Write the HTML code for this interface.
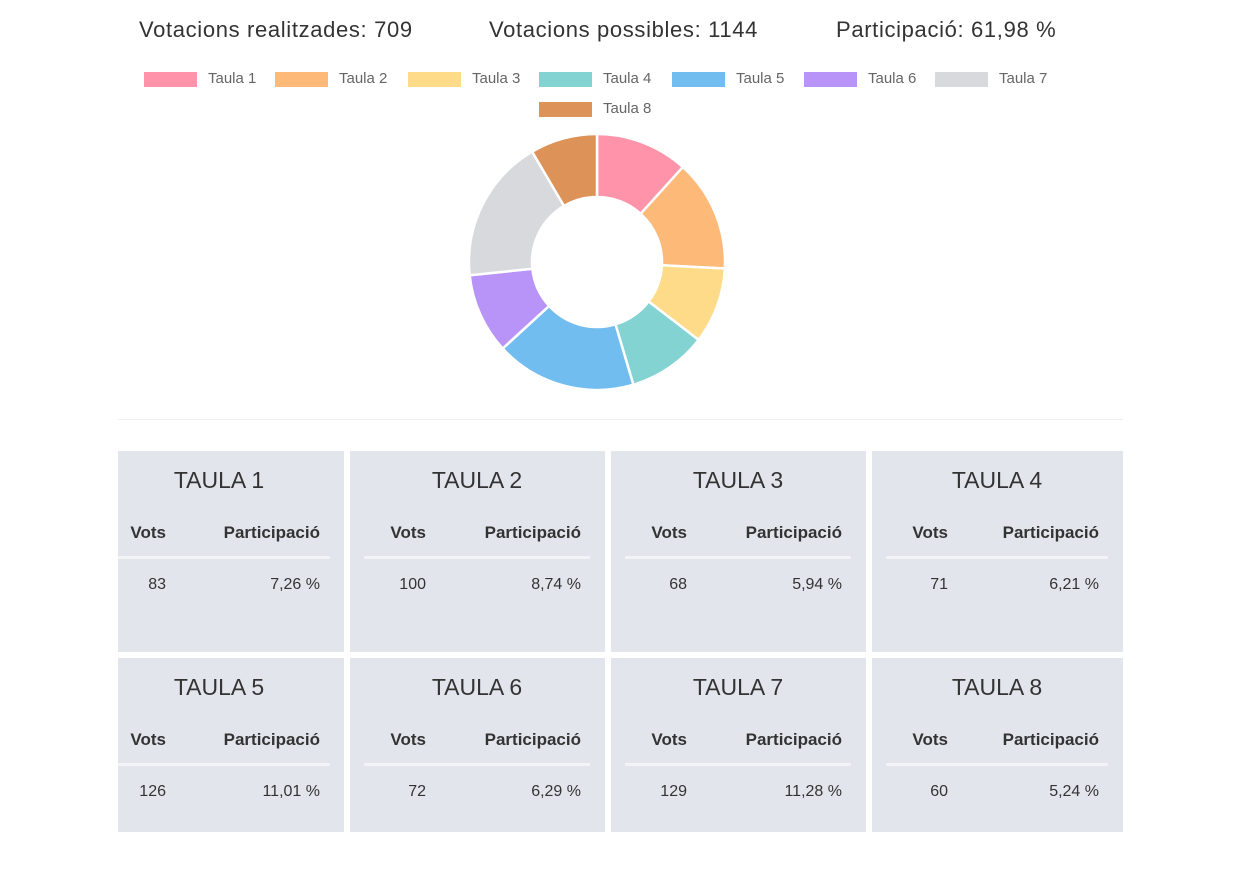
<!DOCTYPE html>
<html><head><meta charset="utf-8"><style>
body{margin:0;width:1241px;height:871px;background:#fff;position:relative;overflow:hidden;font-family:"Liberation Sans",sans-serif}
.a{position:absolute;white-space:nowrap}
.h{font-size:22px;color:#333;top:17px;letter-spacing:0.65px}
.lb{position:absolute;width:53px;height:15px}
.lt{position:absolute;font-size:15px;color:#666}
.card{position:absolute;background:#e2e6ec}
.t{font-size:23px;color:#333;font-weight:300;top:16px}
.b{font-size:17px;font-weight:bold;color:#333;top:72px}
.v{font-size:16px;color:#333;top:125px}
.ln{position:absolute;height:3px;background:#f1f3f6;top:105px}
</style></head><body>
<div class="a h" style="left:139px">Votacions realitzades: 709</div>
<div class="a h" style="left:489px">Votacions possibles: 1144</div>
<div class="a h" style="left:836px">Participació: 61,98 %</div>
<div style="position:absolute;left:118px;top:419px;width:1005px;height:1px;background:#eceef0"></div>
<svg id="d" width="1241" height="420" style="position:absolute;left:0;top:0"></svg>
<div id="root"></div>
<script>
(function(){
var vals=[83,100,68,71,126,72,129,60],pct=["7,26","8,74","5,94","6,21","11,01","6,29","11,28","5,24"];
var cols=["#fe93a9","#fdb977","#fedb88","#82d3d2","#72bdef","#b893f8","#d8d9dd","#dd9258"];
var s="",cx=597,cy=262,R=128,r=65,tot=709,a=-Math.PI/2;
function p(rad,an){return (cx+rad*Math.cos(an)).toFixed(2)+","+(cy+rad*Math.sin(an)).toFixed(2)}
vals.forEach(function(v,i){var b=a+v/tot*2*Math.PI,l=(b-a)>Math.PI?1:0;
s+='<path d="M'+p(R,a)+' A'+R+','+R+' 0 '+l+' 1 '+p(R,b)+' L'+p(r,b)+' A'+r+','+r+' 0 '+l+' 0 '+p(r,a)+' Z" fill="'+cols[i]+'" stroke="#fff" stroke-width="2.5"/>';a=b;});
document.getElementById('d').innerHTML=s;
var h="",lx=[144,275,408,539,672,804,935,539];
for(var i=0;i<8;i++){var y=i<7?72:102;
h+='<div class="lb" style="left:'+lx[i]+'px;top:'+y+'px;background:'+cols[i]+'"></div><div class="lt" style="left:'+(lx[i]+64)+'px;top:'+(y-2)+'px">Taula '+(i+1)+'</div>';}
var cx2=[[118,344],[350,605],[611,866],[872,1123]];
for(var i=0;i<8;i++){var c=cx2[i%4],ctop=i<4?451:658,ht=i<4?201:174,w=c[1]-c[0];
var tl=i%4==0?0:14,tr=i%4==0?14:15;
var vx=i%4==0?48:76;
h+='<div class="card" style="left:'+c[0]+'px;top:'+ctop+'px;width:'+w+'px;height:'+ht+'px">'+
'<div class="a t" style="'+(i%4==0?'left:-12px;width:'+w+'px':'left:'+tl+'px;width:'+(w-tl-tr)+'px')+';text-align:center">TAULA '+(i+1)+'</div>'+
'<div class="a b" style="right:'+(w-vx)+'px">Vots</div>'+
'<div class="a b" style="right:24px">Participació</div>'+
'<div class="ln" style="left:'+tl+'px;right:'+tr+'px"></div>'+
'<div class="a v" style="right:'+(w-vx)+'px">'+vals[i]+'</div>'+
'<div class="a v" style="right:24px">'+pct[i]+' %</div></div>';}
document.getElementById('root').innerHTML=h;
})();
</script>
</body></html>
